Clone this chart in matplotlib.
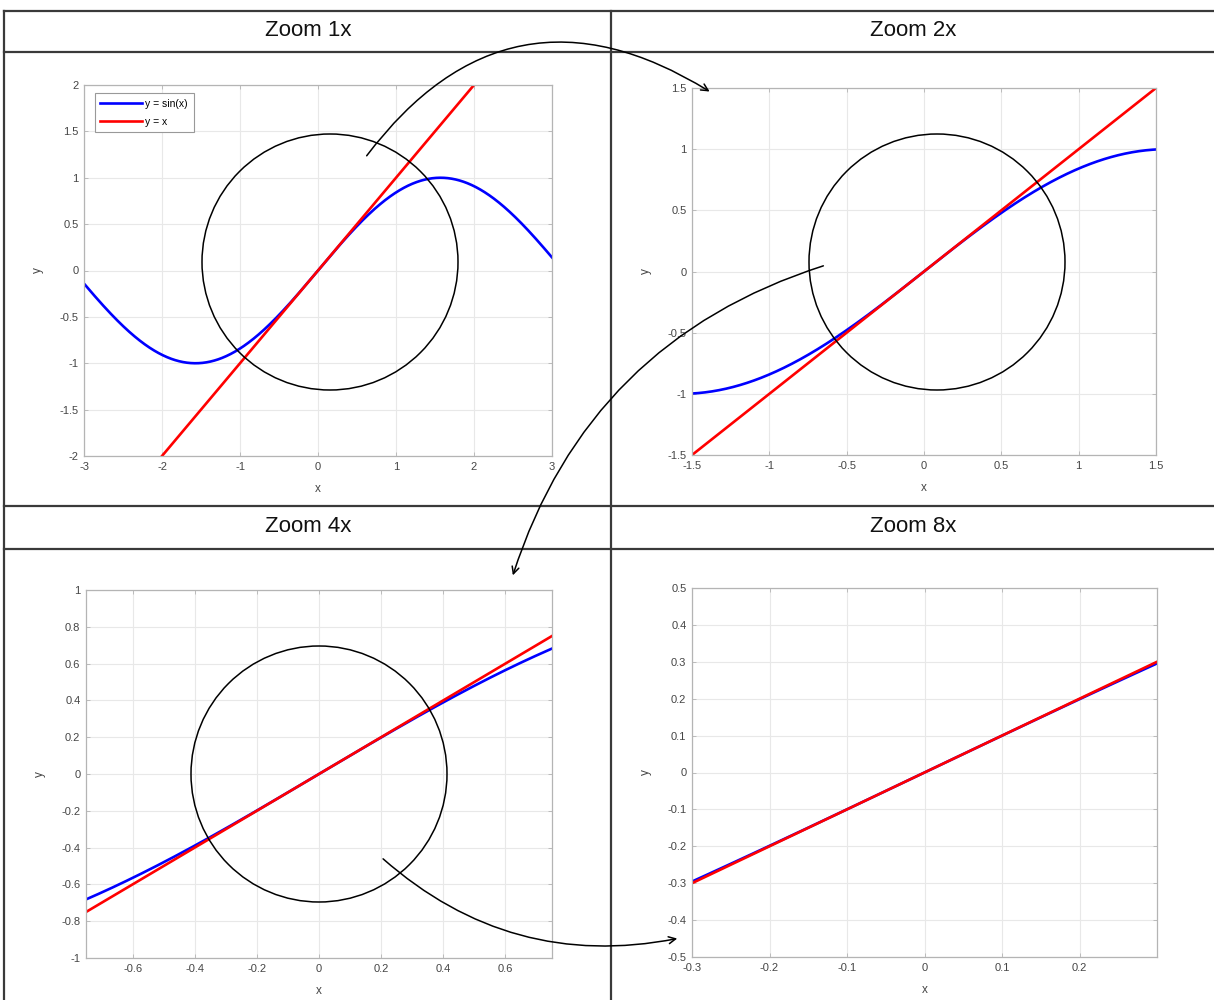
import numpy as np
import matplotlib
matplotlib.use("Agg")
import matplotlib.pyplot as plt
from matplotlib.lines import Line2D
from matplotlib.patches import Ellipse, FancyArrowPatch
from matplotlib.ticker import FormatStrFormatter

plt.rcParams['font.family'] = ['Liberation Sans', 'DejaVu Sans']

W, H = 1214, 1000

# panel data
titles = ["Zoom 1x", "Zoom 2x", "Zoom 4x", "Zoom 8x"]
xlims = [(-3, 3), (-1.5, 1.5), (-0.75, 0.75), (-0.3, 0.3)]
ylims = [(-2, 2), (-1.5, 1.5), (-1, 1), (-0.5, 0.5)]
xticks = [[-3, -2, -1, 0, 1, 2, 3],
          [-1.5, -1, -0.5, 0, 0.5, 1, 1.5],
          [-0.6, -0.4, -0.2, 0, 0.2, 0.4, 0.6],
          [-0.3, -0.2, -0.1, 0, 0.1, 0.2]]
yticks = [[-2, -1.5, -1, -0.5, 0, 0.5, 1, 1.5, 2],
          [-1.5, -1, -0.5, 0, 0.5, 1, 1.5],
          [-1, -0.8, -0.6, -0.4, -0.2, 0, 0.2, 0.4, 0.6, 0.8, 1],
          [-0.5, -0.4, -0.3, -0.2, -0.1, 0, 0.1, 0.2, 0.3, 0.4, 0.5]]
x_all = np.linspace(-3, 3, 1201)
y_sin = np.sin(x_all)
y_lin = x_all

# axes boxes in pixels: left, right, top, bottom
boxes = [(84, 552, 85, 456), (692, 1156, 88, 455),
         (86, 552, 590, 958), (692, 1157, 588, 957)]


def fx(x):
    return x / W


def fy(y):
    return 1 - y / H


fig = plt.figure(figsize=(W / 100, H / 100), dpi=100)

gray = '#b4b4b4'
for i in range(4):
    l, r, t, b = boxes[i]
    ax = fig.add_axes([fx(l), fy(b), (r - l) / W, (b - t) / H])
    ax.plot(x_all, y_sin, color='#0000ff', lw=1.9, label='y = sin(x)')
    ax.plot(x_all, y_lin, color='#ff0000', lw=1.9, label='y = x')
    ax.set_xlim(xlims[i])
    ax.set_ylim(ylims[i])
    ax.set_xticks(xticks[i])
    ax.set_yticks(yticks[i])
    ax.xaxis.set_major_formatter(FormatStrFormatter('%g'))
    ax.yaxis.set_major_formatter(FormatStrFormatter('%g'))
    ax.grid(True, color='#e8e8e8', lw=0.8)
    ax.set_axisbelow(True)
    ax.tick_params(direction='in', length=3, width=0.6, color=gray,
                   labelsize=8, labelcolor='#454545', top=True, right=True, pad=4)
    for s in ax.spines.values():
        s.set_color(gray)
        s.set_linewidth(0.9)
    ax.set_xlabel('x', fontsize=8.5, color='#454545', labelpad=8)
    ax.set_ylabel('y', fontsize=8.5, color='#454545', labelpad=11)
    if i == 0:
        leg = ax.legend(loc='upper left', fontsize=7.5, handlelength=4.0,
                        fancybox=False, borderpad=0.55, labelspacing=0.75,
                        handletextpad=0.3, framealpha=1, borderaxespad=0,
                        bbox_to_anchor=(0.023, 0.978))
        leg.get_frame().set_edgecolor('#999999')
        leg.get_frame().set_linewidth(0.8)

# frame lines of the layout
frame_c = '#3a3a3a'
hlines = [11, 52, 506, 549]
for y in hlines:
    fig.add_artist(Line2D([fx(4), 1], [fy(y), fy(y)], color=frame_c, lw=1.6,
                          transform=fig.transFigure))
for x in [4, 611]:
    fig.add_artist(Line2D([fx(x), fx(x)], [fy(11), 0], color=frame_c, lw=1.6,
                          transform=fig.transFigure))

# headers
head_pos = [(308, 30), (913, 30), (308, 526), (913, 526)]
for (hx, hy), txt in zip(head_pos, titles):
    fig.text(fx(hx), fy(hy), txt, ha='center', va='center', fontsize=16,
             color='#111111')

# zoom circles
for cx, cy in [(330, 262), (937, 262), (319, 774)]:
    fig.add_artist(Ellipse((fx(cx), fy(cy)), 2 * 128 / W, 2 * 128 / H,
                           transform=fig.transFigure, fill=False,
                           edgecolor='black', lw=1.1, zorder=5))

# curved arrows
arrows = [((365, 158), (712, 93), -0.46),
          ((826, 265), (512, 578), 0.26),
          ((381, 857), (680, 938), 0.25)]
for (x0, y0), (x1, y1), rad in arrows:
    fig.add_artist(FancyArrowPatch((fx(x0), fy(y0)), (fx(x1), fy(y1)),
                                   transform=fig.transFigure,
                                   connectionstyle=f"arc3,rad={rad}",
                                   arrowstyle='->,head_length=5,head_width=2.5',
                                   color='black', lw=1.1, zorder=6))

fig.savefig('out.png', dpi=100)
